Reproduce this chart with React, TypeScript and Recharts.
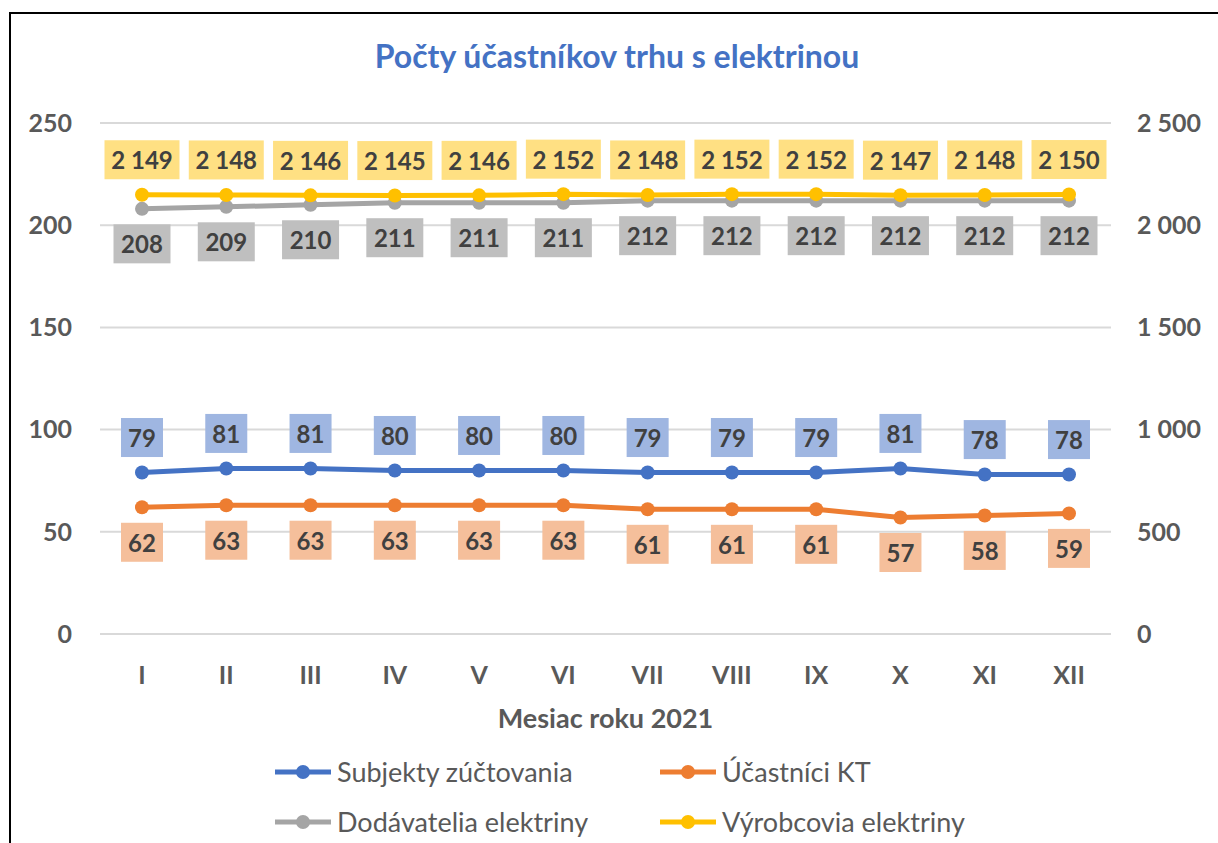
import { CartesianGrid, LabelList, Legend, Line, LineChart, XAxis, YAxis } from "recharts";

const MONTHS = ["I", "II", "III", "IV", "V", "VI", "VII", "VIII", "IX", "X", "XI", "XII"];
const SUBJEKTY = [79, 81, 81, 80, 80, 80, 79, 79, 79, 81, 78, 78];
const UCASTNICI = [62, 63, 63, 63, 63, 63, 61, 61, 61, 57, 58, 59];
const DODAVATELIA = [208, 209, 210, 211, 211, 211, 212, 212, 212, 212, 212, 212];
const VYROBCOVIA = [2149, 2148, 2146, 2145, 2146, 2152, 2148, 2152, 2152, 2147, 2148, 2150];
const LEFT_TICKS = [0, 50, 100, 150, 200, 250];
const RIGHT_TICKS = [0, 500, 1000, 1500, 2000, 2500];

const FONT = "Lato, 'Open Sans', sans-serif";
const AXIS_GRAY = "#595959";

interface Series {
  key: string;
  name: string;
  color: string;
  box: string;
  axis: "left" | "right";
  side: "above" | "below";
}

const SERIES: Series[] = [
  { key: "subjekty", name: "Subjekty zúčtovania", color: "#4472C4", box: "#9FB6E1", axis: "left", side: "above" },
  { key: "ucastnici", name: "Účastníci KT", color: "#ED7D31", box: "#F5BF9B", axis: "left", side: "below" },
  { key: "dodavatelia", name: "Dodávatelia elektriny", color: "#A5A5A5", box: "#BFBFBF", axis: "left", side: "below" },
  { key: "vyrobcovia", name: "Výrobcovia elektriny", color: "#FFC000", box: "#FFE083", axis: "right", side: "above" },
];

const data = MONTHS.map((m, i) => ({
  month: m,
  subjekty: SUBJEKTY[i],
  ucastnici: UCASTNICI[i],
  dodavatelia: DODAVATELIA[i],
  vyrobcovia: VYROBCOVIA[i],
}));

// "2149" -> "2 149", like the Slovak number format in the original
const fmt = (v: number) => String(v).replace(/\B(?=(\d{3})+(?!\d))/g, " ");

function boxLabel(fill: string, side: "above" | "below") {
  return (props: any) => {
    const { x, y, value } = props;
    const text = fmt(value);
    const w = text.length <= 2 ? 42 : text.length === 3 ? 57 : 75;
    const cy = y + (side === "above" ? -35 : 35);
    return (
      <g>
        <rect x={x - w / 2} y={cy - 19.5} width={w} height={39} fill={fill} />
        <text
          x={x}
          y={cy}
          textAnchor="middle"
          dominantBaseline="central"
          fontFamily={FONT}
          fontWeight={700}
          fontSize={24}
          fill="#404040"
        >
          {text}
        </text>
      </g>
    );
  };
}

function LegendBox() {
  return (
    <div
      style={{
        display: "grid",
        gridTemplateColumns: "385px 320px",
        rowGap: 21,
        paddingLeft: 275,
        fontFamily: FONT,
        fontSize: 27,
        color: AXIS_GRAY,
      }}
    >
      {SERIES.map((s) => (
        <div key={s.key} style={{ display: "flex", alignItems: "center", height: 29 }}>
          <svg width={56} height={20} style={{ marginRight: 6 }}>
            <line x1={0} y1={10} x2={56} y2={10} stroke={s.color} strokeWidth={5} />
            <circle cx={28} cy={10} r={7} fill={s.color} />
          </svg>
          <span>{s.name}</span>
        </div>
      ))}
    </div>
  );
}

export default function App() {
  const tick = { fill: AXIS_GRAY, fontSize: 25, fontWeight: 700, fontFamily: FONT };
  return (
    <div style={{ position: "absolute", left: 0, top: 0, width: 1218, height: 843, background: "#fff" }}>
      <div
        style={{
          position: "absolute",
          left: 9,
          top: 12,
          width: 1209,
          height: 831,
          borderTop: "2px solid #000",
          borderLeft: "2px solid #000",
          boxSizing: "border-box",
        }}
      />
      <div
        style={{
          position: "absolute",
          left: 0,
          top: 36,
          width: 1234,
          textAlign: "center",
          fontFamily: FONT,
          fontWeight: 700,
          fontSize: 32,
          color: "#4472C4",
        }}
      >
        Počty účastníkov trhu s elektrinou
      </div>
      <div style={{ position: "absolute", left: 0, top: 0 }}>
        <LineChart width={1218} height={843} data={data} margin={{ top: 123, right: 7, bottom: 109, left: 10 }}>
          <CartesianGrid yAxisId="left" vertical={false} stroke="#D9D9D9" strokeWidth={2} />
          <XAxis
            dataKey="month"
            axisLine={false}
            tickLine={false}
            tickSize={0}
            tickMargin={32}
            height={100}
            padding={{ left: 42, right: 42 }}
            tick={tick}
            interval={0}
            label={{
              content: (p: any) => {
                const vb = p.viewBox;
                return (
                  <text
                    x={vb.x + vb.width / 2}
                    y={vb.y + 83}
                    textAnchor="middle"
                    dominantBaseline="central"
                    fontFamily={FONT}
                    fontWeight={700}
                    fontSize={27}
                    fill={AXIS_GRAY}
                  >
                    Mesiac roku 2021
                  </text>
                );
              },
            }}
          />
          <YAxis
            yAxisId="left"
            width={90}
            domain={[0, 250]}
            ticks={LEFT_TICKS}
            axisLine={false}
            tickLine={false}
            tickSize={0}
            tickMargin={28}
            tick={tick}
          />
          <YAxis
            yAxisId="right"
            orientation="right"
            width={100}
            domain={[0, 2500]}
            ticks={RIGHT_TICKS}
            axisLine={false}
            tickLine={false}
            tickSize={0}
            tickMargin={26}
            tick={{ ...tick, textAnchor: "start" }}
            tickFormatter={fmt}
          />
          <Legend
            layout="horizontal"
            verticalAlign="middle"
            content={() => <LegendBox />}
            wrapperStyle={{ top: 757, left: 0, width: 1218 }}
          />
          {SERIES.map((s) => (
            <Line
              key={s.key}
              yAxisId={s.axis}
              dataKey={s.key}
              name={s.name}
              stroke={s.color}
              strokeWidth={5}
              dot={{ r: 7, fill: s.color, stroke: s.color, strokeWidth: 0 }}
              activeDot={false}
              isAnimationActive={false}
            >
              <LabelList dataKey={s.key} content={boxLabel(s.box, s.side)} />
            </Line>
          ))}
        </LineChart>
      </div>
    </div>
  );
}
